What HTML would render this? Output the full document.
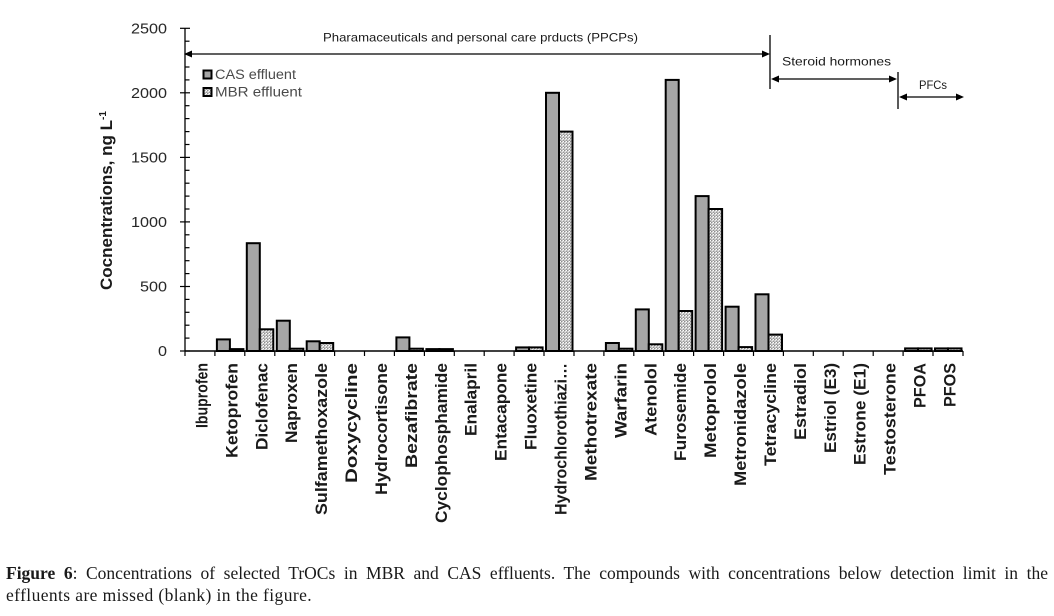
<!DOCTYPE html>
<html><head><meta charset="utf-8"><style>
html,body{margin:0;padding:0;background:#fff;}
#wrap{position:relative;width:1054px;height:616px;overflow:hidden;background:#fff;}
svg{position:absolute;left:0;top:0;}
.cap{position:absolute;left:6px;width:1042px;font-family:"Liberation Serif",serif;font-size:17.5px;letter-spacing:0.4px;color:#1a1a1a;white-space:nowrap;line-height:22px;}
.j{text-align:justify;text-align-last:justify;white-space:normal;letter-spacing:0;}
</style></head><body><div id="wrap">
<svg width="1054" height="616" viewBox="0 0 1054 616" xmlns="http://www.w3.org/2000/svg">
<defs>
<pattern id="dots" x="0" y="0" width="3" height="3" patternUnits="userSpaceOnUse">
<rect width="3" height="3" fill="#c4c4c4"/>
<rect x="0" y="0" width="1" height="1" fill="#8e8e8e"/>
<rect x="1" y="1" width="1" height="1" fill="#ececec"/>
<rect x="2" y="2" width="1" height="1" fill="#9a9a9a"/>
<rect x="2" y="0" width="1" height="1" fill="#ffffff"/>
</pattern>
</defs>

<!-- y axis -->
<line x1="185" y1="28" x2="185" y2="351" stroke="#000" stroke-width="1.3"/>
<g stroke="#000" stroke-width="1.2">
<line x1="180" y1="351" x2="190" y2="351"/>
<line x1="180" y1="286.5" x2="190" y2="286.5"/>
<line x1="180" y1="221.9" x2="190" y2="221.9"/>
<line x1="180" y1="157.4" x2="190" y2="157.4"/>
<line x1="180" y1="92.8" x2="190" y2="92.8"/>
<line x1="180" y1="28.3" x2="190" y2="28.3"/>
<line x1="185" y1="338.1" x2="189.5" y2="338.1"/>
<line x1="185" y1="325.2" x2="189.5" y2="325.2"/>
<line x1="185" y1="312.3" x2="189.5" y2="312.3"/>
<line x1="185" y1="299.4" x2="189.5" y2="299.4"/>
<line x1="185" y1="273.6" x2="189.5" y2="273.6"/>
<line x1="185" y1="260.7" x2="189.5" y2="260.7"/>
<line x1="185" y1="247.7" x2="189.5" y2="247.7"/>
<line x1="185" y1="234.8" x2="189.5" y2="234.8"/>
<line x1="185" y1="209.0" x2="189.5" y2="209.0"/>
<line x1="185" y1="196.1" x2="189.5" y2="196.1"/>
<line x1="185" y1="183.2" x2="189.5" y2="183.2"/>
<line x1="185" y1="170.3" x2="189.5" y2="170.3"/>
<line x1="185" y1="144.5" x2="189.5" y2="144.5"/>
<line x1="185" y1="131.6" x2="189.5" y2="131.6"/>
<line x1="185" y1="118.6" x2="189.5" y2="118.6"/>
<line x1="185" y1="105.7" x2="189.5" y2="105.7"/>
<line x1="185" y1="79.9" x2="189.5" y2="79.9"/>
<line x1="185" y1="67.0" x2="189.5" y2="67.0"/>
<line x1="185" y1="54.1" x2="189.5" y2="54.1"/>
<line x1="185" y1="41.2" x2="189.5" y2="41.2"/>
</g>
<g font-family="Liberation Sans, sans-serif" font-size="15" fill="#262626" text-anchor="end">
<text x="167" y="356" textLength="9" lengthAdjust="spacingAndGlyphs">0</text>
<text x="167" y="291.5" textLength="27" lengthAdjust="spacingAndGlyphs">500</text>
<text x="167" y="227" textLength="36" lengthAdjust="spacingAndGlyphs">1000</text>
<text x="167" y="162.4" textLength="36" lengthAdjust="spacingAndGlyphs">1500</text>
<text x="167" y="97.8" textLength="36" lengthAdjust="spacingAndGlyphs">2000</text>
<text x="167" y="33.3" textLength="36" lengthAdjust="spacingAndGlyphs">2500</text>
</g>
<!-- y title -->
<text transform="translate(112,290) rotate(-90)" font-family="Liberation Sans, sans-serif" font-weight="bold" font-size="16.5" fill="#1a1a1a"><tspan textLength="170" lengthAdjust="spacingAndGlyphs">Cocnentrations, ng L</tspan><tspan font-size="10" dy="-6">-1</tspan></text>

<!-- bars -->
<g stroke="#000" stroke-width="2">
<rect x="216.9" y="339.4" width="13" height="11.6" fill="#a6a6a6"/>
<rect x="229.9" y="349.1" width="13.5" height="1.9" fill="url(#dots)"/>
<rect x="246.8" y="243.2" width="13" height="107.8" fill="#a6a6a6"/>
<rect x="259.8" y="329.3" width="13.5" height="21.7" fill="url(#dots)"/>
<rect x="276.8" y="320.7" width="13" height="30.3" fill="#a6a6a6"/>
<rect x="289.8" y="348.7" width="13.5" height="2.3" fill="url(#dots)"/>
<rect x="306.7" y="341.3" width="13" height="9.7" fill="#a6a6a6"/>
<rect x="319.7" y="343.0" width="13.5" height="8.0" fill="url(#dots)"/>
<rect x="396.4" y="337.4" width="13" height="13.6" fill="#a6a6a6"/>
<rect x="409.4" y="348.7" width="13.5" height="2.3" fill="url(#dots)"/>
<rect x="426.4" y="349.1" width="13" height="1.9" fill="#a6a6a6"/>
<rect x="439.4" y="349.1" width="13.5" height="1.9" fill="url(#dots)"/>
<rect x="516.1" y="347.4" width="13" height="3.6" fill="#a6a6a6"/>
<rect x="529.1" y="347.4" width="13.5" height="3.6" fill="url(#dots)"/>
<rect x="546.0" y="92.8" width="13" height="258.2" fill="#a6a6a6"/>
<rect x="559.0" y="131.6" width="13.5" height="219.4" fill="url(#dots)"/>
<rect x="605.9" y="343.0" width="13" height="8.0" fill="#a6a6a6"/>
<rect x="618.9" y="348.7" width="13.5" height="2.3" fill="url(#dots)"/>
<rect x="635.8" y="309.4" width="13" height="41.6" fill="#a6a6a6"/>
<rect x="648.8" y="344.3" width="13.5" height="6.7" fill="url(#dots)"/>
<rect x="665.7" y="79.9" width="13" height="271.1" fill="#a6a6a6"/>
<rect x="678.7" y="311.0" width="13.5" height="40.0" fill="url(#dots)"/>
<rect x="695.6" y="196.1" width="13" height="154.9" fill="#a6a6a6"/>
<rect x="708.6" y="209.0" width="13.5" height="142.0" fill="url(#dots)"/>
<rect x="725.6" y="306.7" width="13" height="44.3" fill="#a6a6a6"/>
<rect x="738.6" y="347.1" width="13.5" height="3.9" fill="url(#dots)"/>
<rect x="755.5" y="294.3" width="13" height="56.7" fill="#a6a6a6"/>
<rect x="768.5" y="334.6" width="13.5" height="16.4" fill="url(#dots)"/>
<rect x="905.1" y="348.4" width="13" height="2.6" fill="#a6a6a6"/>
<rect x="918.1" y="348.4" width="13.5" height="2.6" fill="url(#dots)"/>
<rect x="935.0" y="348.4" width="13" height="2.6" fill="#a6a6a6"/>
<rect x="948.0" y="348.4" width="13.5" height="2.6" fill="url(#dots)"/>
</g>

<!-- x axis -->
<line x1="185" y1="351" x2="963" y2="351" stroke="#000" stroke-width="1.5"/>
<g stroke="#000" stroke-width="1.2">
<line x1="185.0" y1="351" x2="185.0" y2="356"/><line x1="214.9" y1="351" x2="214.9" y2="356"/>
<line x1="244.8" y1="351" x2="244.8" y2="356"/><line x1="274.8" y1="351" x2="274.8" y2="356"/>
<line x1="304.7" y1="351" x2="304.7" y2="356"/><line x1="334.6" y1="351" x2="334.6" y2="356"/>
<line x1="364.5" y1="351" x2="364.5" y2="356"/><line x1="394.4" y1="351" x2="394.4" y2="356"/>
<line x1="424.4" y1="351" x2="424.4" y2="356"/><line x1="454.3" y1="351" x2="454.3" y2="356"/>
<line x1="484.2" y1="351" x2="484.2" y2="356"/><line x1="514.1" y1="351" x2="514.1" y2="356"/>
<line x1="544.0" y1="351" x2="544.0" y2="356"/><line x1="574.0" y1="351" x2="574.0" y2="356"/>
<line x1="603.9" y1="351" x2="603.9" y2="356"/><line x1="633.8" y1="351" x2="633.8" y2="356"/>
<line x1="663.7" y1="351" x2="663.7" y2="356"/><line x1="693.6" y1="351" x2="693.6" y2="356"/>
<line x1="723.6" y1="351" x2="723.6" y2="356"/><line x1="753.5" y1="351" x2="753.5" y2="356"/>
<line x1="783.4" y1="351" x2="783.4" y2="356"/><line x1="813.3" y1="351" x2="813.3" y2="356"/>
<line x1="843.2" y1="351" x2="843.2" y2="356"/><line x1="873.2" y1="351" x2="873.2" y2="356"/>
<line x1="903.1" y1="351" x2="903.1" y2="356"/><line x1="933.0" y1="351" x2="933.0" y2="356"/>
<line x1="963.0" y1="351" x2="963.0" y2="356"/>
</g>

<!-- x labels -->
<g font-family="Liberation Sans, sans-serif" font-weight="bold" font-size="17" fill="#1a1a1a" text-anchor="end">
<text transform="translate(207.5,363) rotate(-90)" textLength="65" lengthAdjust="spacingAndGlyphs">Ibuprofen</text>
<text transform="translate(237.4,363) rotate(-90)" textLength="95" lengthAdjust="spacingAndGlyphs">Ketoprofen</text>
<text transform="translate(267.3,363) rotate(-90)" textLength="87" lengthAdjust="spacingAndGlyphs">Diclofenac</text>
<text transform="translate(297.2,363) rotate(-90)" textLength="80" lengthAdjust="spacingAndGlyphs">Naproxen</text>
<text transform="translate(327.1,363) rotate(-90)" textLength="152" lengthAdjust="spacingAndGlyphs">Sulfamethoxazole</text>
<text transform="translate(357.1,363) rotate(-90)" textLength="120" lengthAdjust="spacingAndGlyphs">Doxycycline</text>
<text transform="translate(387.0,363) rotate(-90)" textLength="132" lengthAdjust="spacingAndGlyphs">Hydrocortisone</text>
<text transform="translate(416.9,363) rotate(-90)" textLength="105" lengthAdjust="spacingAndGlyphs">Bezafibrate</text>
<text transform="translate(446.8,363) rotate(-90)" textLength="160" lengthAdjust="spacingAndGlyphs">Cyclophosphamide</text>
<text transform="translate(476.7,363) rotate(-90)" textLength="73" lengthAdjust="spacingAndGlyphs">Enalapril</text>
<text transform="translate(506.7,363) rotate(-90)" textLength="98" lengthAdjust="spacingAndGlyphs">Entacapone</text>
<text transform="translate(536.6,363) rotate(-90)" textLength="87" lengthAdjust="spacingAndGlyphs">Fluoxetine</text>
<text transform="translate(566.5,363) rotate(-90)" textLength="152" lengthAdjust="spacingAndGlyphs">Hydrochlorothiazi…</text>
<text transform="translate(596.4,363) rotate(-90)" textLength="118" lengthAdjust="spacingAndGlyphs">Methotrexate</text>
<text transform="translate(626.3,363) rotate(-90)" textLength="75" lengthAdjust="spacingAndGlyphs">Warfarin</text>
<text transform="translate(656.3,363) rotate(-90)" textLength="73" lengthAdjust="spacingAndGlyphs">Atenolol</text>
<text transform="translate(686.2,363) rotate(-90)" textLength="98" lengthAdjust="spacingAndGlyphs">Furosemide</text>
<text transform="translate(716.1,363) rotate(-90)" textLength="95" lengthAdjust="spacingAndGlyphs">Metoprolol</text>
<text transform="translate(746.0,363) rotate(-90)" textLength="123" lengthAdjust="spacingAndGlyphs">Metronidazole</text>
<text transform="translate(775.9,363) rotate(-90)" textLength="103" lengthAdjust="spacingAndGlyphs">Tetracycline</text>
<text transform="translate(805.9,363) rotate(-90)" textLength="77" lengthAdjust="spacingAndGlyphs">Estradiol</text>
<text transform="translate(835.8,363) rotate(-90)" textLength="90" lengthAdjust="spacingAndGlyphs">Estriol (E3)</text>
<text transform="translate(865.7,363) rotate(-90)" textLength="102" lengthAdjust="spacingAndGlyphs">Estrone (E1)</text>
<text transform="translate(895.6,363) rotate(-90)" textLength="112" lengthAdjust="spacingAndGlyphs">Testosterone</text>
<text transform="translate(925.5,363) rotate(-90)" textLength="45" lengthAdjust="spacingAndGlyphs">PFOA</text>
<text transform="translate(955.5,363) rotate(-90)" textLength="44" lengthAdjust="spacingAndGlyphs">PFOS</text>
</g>

<!-- group annotations -->
<g stroke="#000" stroke-width="1.3" fill="none">
<line x1="190" y1="54" x2="764" y2="54"/>
<line x1="770" y1="35" x2="770" y2="89"/>
<line x1="776" y1="79" x2="892" y2="79"/>
<line x1="898" y1="72" x2="898" y2="109"/>
<line x1="904" y1="97" x2="957" y2="97"/>
</g>
<g fill="#000">
<polygon points="184,54 192,50.5 192,57.5"/>
<polygon points="770,54 762,50.5 762,57.5"/>
<polygon points="771,79 779,75.5 779,82.5"/>
<polygon points="897,79 889,75.5 889,82.5"/>
<polygon points="899,97 907,93.5 907,100.5"/>
<polygon points="964,97 956,93.5 956,100.5"/>
</g>
<g font-family="Liberation Sans, sans-serif" font-size="12" fill="#1a1a1a">
<text x="323" y="41.5" textLength="315" lengthAdjust="spacingAndGlyphs">Pharamaceuticals and personal care prducts (PPCPs)</text>
<text x="782" y="65.5" textLength="109" lengthAdjust="spacingAndGlyphs">Steroid hormones</text>
<text x="919" y="89" textLength="28" lengthAdjust="spacingAndGlyphs">PFCs</text>
</g>

<!-- legend -->
<rect x="203.5" y="70.5" width="8" height="8" fill="#a6a6a6" stroke="#000" stroke-width="2"/>
<rect x="203.5" y="88" width="8" height="8" fill="url(#dots)" stroke="#000" stroke-width="2"/>
<g font-family="Liberation Sans, sans-serif" font-size="13.5" fill="#4a4a4a">
<text x="215" y="78.8" textLength="81" lengthAdjust="spacingAndGlyphs">CAS effluent</text>
<text x="215" y="96.5" textLength="87" lengthAdjust="spacingAndGlyphs">MBR effluent</text>
</g>
</svg>
<div class="cap j" style="top:562.1px;"><b>Figure 6</b>: Concentrations of selected TrOCs in MBR and CAS effluents. The compounds with concentrations below detection limit in the</div>
<div class="cap" style="top:584.1px;">effluents are missed (blank) in the figure.</div>
</div></body></html>
